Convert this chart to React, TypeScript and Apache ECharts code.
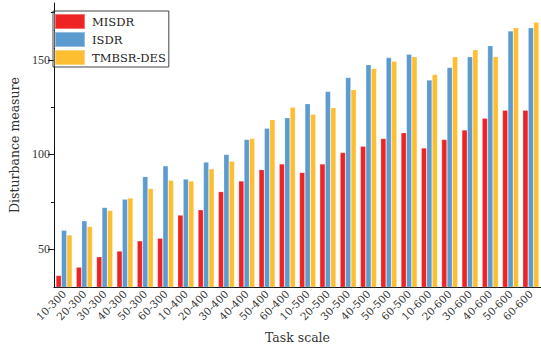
import React, { useEffect, useRef } from "react";
import * as echarts from "echarts";

// Task scales, grouped by task count (300 / 400 / 500 / 600)
const categories = [
  "10-300", "20-300", "30-300", "40-300", "50-300", "60-300",
  "10-400", "20-400", "30-400", "40-400", "50-400", "60-400",
  "10-500", "20-500", "30-500", "40-500", "50-500", "60-500",
  "10-600", "20-600", "30-600", "40-600", "50-600", "60-600",
];

const misdr = [
  36.1, 40.5, 46.0, 49.0, 54.4, 55.8,
  68.0, 70.8, 80.4, 86.0, 92.0, 95.0,
  90.5, 95.0, 101.0, 104.4, 108.4, 111.5,
  103.4, 107.9, 112.9, 119.1, 123.4, 123.4,
];

const isdr = [
  60.0, 65.0, 72.0, 76.4, 88.3, 94.0,
  87.0, 96.0, 100.0, 107.9, 113.9, 119.4,
  126.8, 133.3, 140.7, 147.4, 151.2, 152.9,
  139.3, 145.9, 151.7, 157.5, 165.3, 167.0,
];

const tmbsrDes = [
  57.5, 62.0, 70.4, 77.0, 82.0, 86.4,
  86.0, 92.4, 96.5, 108.4, 118.4, 124.9,
  121.3, 124.7, 134.2, 145.4, 149.3, 151.7,
  142.3, 151.7, 155.3, 151.7, 167.0, 169.8,
];

const majorTicks = [50, 100, 150];
const minorTicks = [75, 125, 175];

const WIDE_SERIF = "'DejaVu Serif', 'Liberation Serif', serif";
const SERIF = "'Liberation Serif', 'DejaVu Serif', serif";

export default function App() {
  const ref = useRef<HTMLDivElement>(null);

  useEffect(() => {
    if (!ref.current) return;
    const chart = echarts.init(ref.current, null, { renderer: "svg" });

    const bar = (name: string, data: number[], color: string) => ({
      name,
      type: "bar" as const,
      data,
      xAxisIndex: 0,
      yAxisIndex: 0,
      barGap: "0%",
      barCategoryGap: "20%",
      itemStyle: {
        color,
        borderColor: "rgba(255,255,255,0.35)",
        borderWidth: 0.6,
      },
    });

    chart.setOption({
      animation: false,
      textStyle: { fontFamily: WIDE_SERIF, color: "#333" },
      grid: { left: 52, top: 3, width: 492, height: 291, containLabel: false },
      legend: {
        orient: "vertical",
        left: 53,
        top: 11,
        padding: [2, 3, 1, 1],
        itemGap: 1,
        itemWidth: 30,
        itemHeight: 15,
        borderColor: "#444",
        borderWidth: 1,
        icon: "rect",
        textStyle: {
          fontFamily: WIDE_SERIF,
          fontSize: 11.5,
          color: "#222",
          padding: [0, 0, 0, 2],
        },
        data: ["MISDR", "ISDR", "TMBSR-DES"],
      },
      xAxis: [
        {
          type: "category",
          data: categories,
          name: "Task scale",
          nameLocation: "middle",
          nameGap: 44,
          nameTextStyle: { fontFamily: WIDE_SERIF, fontSize: 12.5, color: "#333" },
          axisLine: { lineStyle: { color: "#111", width: 1 } },
          axisTick: {
            alignWithLabel: true,
            interval: 0,
            length: 5,
            lineStyle: { color: "#111" },
          },
          axisLabel: {
            interval: 0,
            rotate: 45,
            margin: 5,
            fontFamily: WIDE_SERIF,
            fontSize: 10.5,
            color: "#333",
          },
        },
        {
          type: "category",
          data: categories,
          position: "bottom",
          axisLine: { show: false },
          axisTick: {
            alignWithLabel: false,
            interval: 0,
            length: 2,
            lineStyle: { color: "#111" },
          },
          axisLabel: { show: false },
        },
      ],
      yAxis: [
        {
          type: "value",
          min: 30,
          max: 180,
          name: "Disturbance measure",
          nameLocation: "middle",
          nameGap: 31,
          nameTextStyle: { fontFamily: WIDE_SERIF, fontSize: 12.5, color: "#333" },
          splitLine: { show: false },
          axisLine: { show: true, lineStyle: { color: "#111", width: 1 } },
          axisTick: {
            show: true,
            length: 6,
            customValues: majorTicks,
            lineStyle: { color: "#111" },
          },
          axisLabel: {
            customValues: majorTicks,
            margin: 4,
            fontFamily: SERIF,
            fontSize: 12,
            color: "#333",
          },
        },
        {
          type: "value",
          min: 30,
          max: 180,
          position: "left",
          splitLine: { show: false },
          axisLine: { show: false },
          axisTick: {
            show: true,
            length: 3,
            customValues: minorTicks,
            lineStyle: { color: "#111" },
          },
          axisLabel: { show: false },
        },
      ],
      series: [
        bar("MISDR", misdr, "#ee2324"),
        bar("ISDR", isdr, "#5b9bd0"),
        bar("TMBSR-DES", tmbsrDes, "#febe32"),
      ],
    });

    return () => chart.dispose();
  }, []);

  return <div ref={ref} style={{ width: 541, height: 349, position: "absolute", left: 0, top: 0 }} />;
}
